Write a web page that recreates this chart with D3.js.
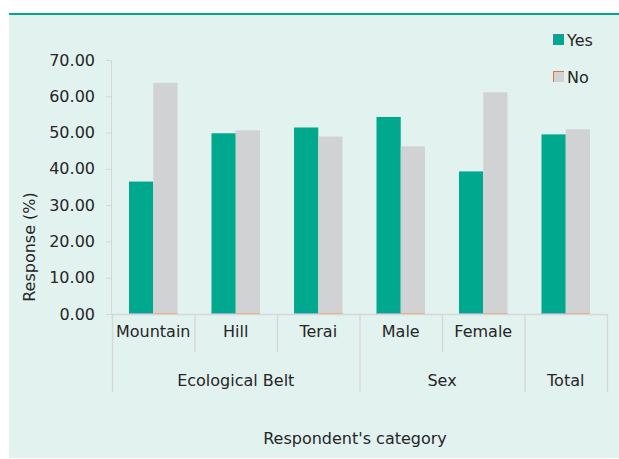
<!DOCTYPE html>
<html>
<head>
<meta charset="utf-8">
<script src="https://cdnjs.cloudflare.com/ajax/libs/d3/7.8.5/d3.min.js"></script>
<style>
  body { margin: 0; background: #fff; }
  text { font-family: "DejaVu Sans", sans-serif; fill: #262626; }
</style>
</head>
<body>
<script>
// chart data
var categories = ["Mountain", "Hill", "Terai", "Male", "Female", "Total"];
var catLabels = ["Mountain", "Hill", "Terai", "Male", "Female", ""];
var catGroup = ["Ecological Belt", "Ecological Belt", "Ecological Belt", "Sex", "Sex", "Total"];
var groups = ["Ecological Belt", "Sex", "Total"];
var series = ["Yes", "No"];
var yesValues = [36.5, 49.8, 51.4, 54.3, 39.3, 49.5];
var noValues = [63.7, 50.6, 48.9, 46.2, 61.1, 50.9];
var yTicks = [0, 10, 20, 30, 40, 50, 60, 70];

var W = 619, H = 459;
var fillC = {Yes: "#00a88e", No: "#d1d2d4"};
var edgeC = {Yes: "#7ea6cf", No: "#f0a070"};

var svg = d3.select("body").append("svg")
    .attr("width", W)
    .attr("height", H);

// panel background + top rule
svg.append("rect").attr("x", 9).attr("y", 15).attr("width", W - 9).attr("height", H - 16)
    .attr("fill", "#e2f2ef");
svg.append("rect").attr("x", 9).attr("y", 13).attr("width", W - 9).attr("height", 2)
    .attr("fill", "#00a88e");

var x = d3.scaleBand().domain(categories).range([112, 607]);
var xs = d3.scaleBand().domain(series)
    .range([x.bandwidth() * 0.206, x.bandwidth() * 0.794]);
var y = d3.scaleLinear().domain([0, 70]).range([314, 60]);

// y axis
var yAxis = svg.append("g")
    .attr("transform", "translate(111,0)")
    .call(d3.axisLeft(y).tickValues(yTicks).tickSize(5).tickPadding(11).tickFormat(d3.format(".2f")));
yAxis.select(".domain").attr("stroke", "#d4d8d7");
yAxis.selectAll(".tick line").attr("stroke", "#d4d8d7");
yAxis.selectAll(".tick text").style("font-size", "16px").style("fill", "#262626");

svg.append("text")
    .attr("transform", "translate(35,247) rotate(-90)")
    .attr("text-anchor", "middle")
    .style("font-size", "16px")
    .text("Response (%)");

// bars
var rows = categories.map(function(c, i) {
  return {cat: c, vals: [{s: "Yes", v: yesValues[i]}, {s: "No", v: noValues[i]}]};
});
var cg = svg.selectAll(".cat").data(rows).enter().append("g")
    .attr("transform", function(d) { return "translate(" + x(d.cat) + ",0)"; });
cg.selectAll("rect.bar").data(function(d) { return d.vals; }).enter().append("rect")
    .attr("class", "bar")
    .attr("x", function(d) { return xs(d.s); })
    .attr("y", function(d) { return y(d.v); })
    .attr("width", xs.bandwidth())
    .attr("height", function(d) { return y(0) - y(d.v); })
    .attr("fill", function(d) { return fillC[d.s]; });
cg.selectAll("line.edge").data(function(d) { return d.vals; }).enter().append("line")
    .attr("class", "edge")
    .attr("x1", function(d) { return xs(d.s); })
    .attr("x2", function(d) { return xs(d.s) + xs.bandwidth(); })
    .attr("y1", y(0) - 0.5).attr("y2", y(0) - 0.5)
    .attr("stroke", function(d) { return edgeC[d.s]; });

// x axis line
svg.append("line").attr("x1", 112).attr("x2", 607).attr("y1", y(0) + 0.5).attr("y2", y(0) + 0.5)
    .attr("stroke", "#d4d8d7").attr("stroke-width", 1.5);

// category separators
var groupEdges = [0];
catGroup.forEach(function(g, i) { if (i > 0 && g !== catGroup[i - 1]) groupEdges.push(i); });
var sepLines = d3.range(categories.length + 1).map(function(i) {
  var px = i < categories.length ? x(categories[i]) : x.range()[1];
  var isGroup = i === categories.length || groupEdges.indexOf(i) >= 0;
  return {px: px, y2: isGroup ? 392 : 352};
});
svg.selectAll(".sep").data(sepLines).enter().append("line")
    .attr("x1", function(d) { return d.px + 0.5; }).attr("x2", function(d) { return d.px + 0.5; })
    .attr("y1", y(0)).attr("y2", function(d) { return d.y2; })
    .attr("stroke", "#d4d8d7").attr("stroke-width", 1.5);

// category labels
svg.selectAll(".clab").data(categories).enter().append("text")
    .attr("x", function(d) { return x(d) + x.bandwidth() / 2; })
    .attr("y", 337)
    .attr("text-anchor", "middle")
    .style("font-size", "16px")
    .text(function(d, i) { return catLabels[i]; });

// group labels
svg.selectAll(".glab").data(groups).enter().append("text")
    .attr("x", function(g) {
      var cs = categories.filter(function(c, i) { return catGroup[i] === g; });
      return (x(cs[0]) + x(cs[cs.length - 1]) + x.bandwidth()) / 2;
    })
    .attr("y", 386)
    .attr("text-anchor", "middle")
    .style("font-size", "16px")
    .text(function(g) { return g; });

svg.append("text")
    .attr("x", 355).attr("y", 444)
    .attr("text-anchor", "middle")
    .style("font-size", "16px")
    .text("Respondent's category");

// legend
var lg = svg.selectAll(".leg").data(series).enter().append("g")
    .attr("transform", function(d, i) { return "translate(553," + (34 + i * 37) + ")"; });
lg.append("rect").attr("width", 11).attr("height", 11)
    .attr("fill", function(d) { return fillC[d]; });
lg.append("path").attr("d", "M0.5,11V0.5H11")
    .attr("fill", "none")
    .attr("stroke", function(d) { return d === "Yes" ? "#4a7ebb" : "#e07040"; });
lg.append("text").attr("x", 14).attr("y", 12)
    .style("font-size", "16px")
    .text(function(d) { return d; });
</script>
</body>
</html>
